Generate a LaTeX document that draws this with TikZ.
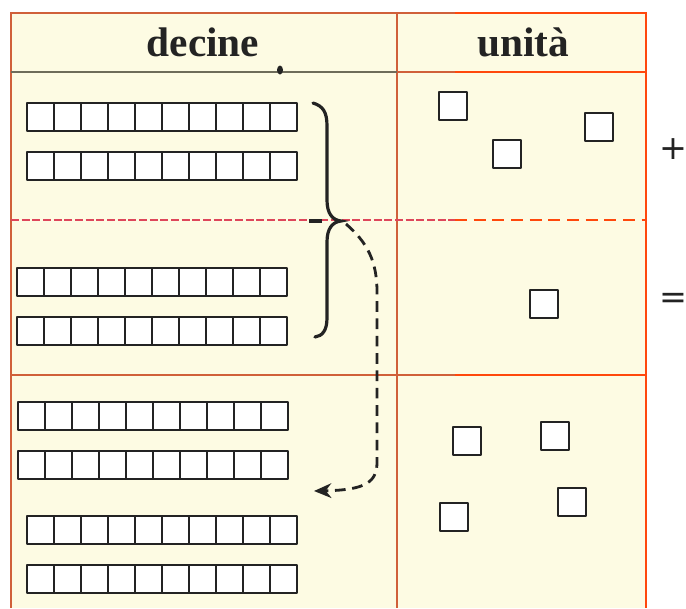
\documentclass[tikz,border=0pt]{standalone}
\usepackage{fontspec}
\setmainfont{Liberation Serif}
\newfontfamily\symfont{DejaVu Sans}
\usetikzlibrary{arrows.meta}
\definecolor{paper}{RGB}{253,251,227}
\definecolor{framebrown}{RGB}{208,96,58}
\definecolor{framebright}{RGB}{255,72,12}
\definecolor{dashpink}{RGB}{222,70,90}
\definecolor{headgray}{RGB}{110,108,90}
\definecolor{ink}{RGB}{35,35,35}
\newcommand\tenbar[2]{%
  \foreach \k in {0,...,9}{\draw[cell] ({#1+27*\k},#2) rectangle ++(27,28);}}
\newcommand\unitsq[2]{\draw[cell] (#1,#2) rectangle ++(28,28);}
\begin{document}
\begin{tikzpicture}[x=0.75pt,y=-0.75pt,
  cell/.style={draw=ink,fill=white,line width=2.1pt,line join=round},
  brown/.style={draw=framebrown,line width=2pt},
  bright/.style={draw=framebright,line width=2.2pt},
  hdr/.style={font=\fontsize{31}{31}\selectfont\bfseries,text=ink,inner sep=0pt},
  sym/.style={font=\symfont\fontsize{25}{25}\selectfont,text=ink,inner sep=0pt}]
\useasboundingbox (0,0) rectangle (686,608);
\fill[white] (0,0) rectangle (686,608);
\fill[paper] (11,13) rectangle (646,608);
% frame
\draw[brown] (11,608) -- (11,13) -- (455,13);
\draw[bright] (455,13) -- (646,13) -- (646,608);
\draw[brown] (397,13) -- (397,608);
\draw[draw=headgray,line width=1.6pt] (11,72) -- (397,72);
\draw[brown] (397,72) -- (455,72);
\draw[bright] (455,72) -- (646,72);
\draw[draw=dashpink,line width=2pt,dash pattern=on 6pt off 2pt] (11,220) -- (455,220);
\draw[draw=framebright,line width=2pt,dash pattern=on 9pt off 5pt] (455,220) -- (646,220);
\draw[brown] (11,375) -- (455,375);
\draw[bright] (455,375) -- (646,375);
\fill[ink] (280,70) ellipse (3 and 4.5);
% headers
\node[hdr] (decine) at (203,42) {decine};
\node[hdr] (unita) at (523,42) {unità};
% tens
\tenbar{27}{103}
\tenbar{27}{152}
\tenbar{17}{268}
\tenbar{17}{317}
\tenbar{18}{402}
\tenbar{18}{451}
\tenbar{27}{516}
\tenbar{27}{565}
% units
\unitsq{439}{92}
\unitsq{585}{113}
\unitsq{493}{140}
\unitsq{530}{290}
\unitsq{453}{427}
\unitsq{541}{422}
\unitsq{440}{503}
\unitsq{558}{488}
% brace
\coordinate (tip) at (341,221);
\draw[ink,line width=2.4pt,line cap=round]
  (313,103) .. controls (323,106) and (327,112) .. (327,126) -- (327,200)
  .. controls (327,213) and (332,220) .. (tip)
  .. controls (332,222) and (327,229) .. (327,242) -- (327,318)
  .. controls (327,331) and (322,336) .. (315,337);
\draw[ink,line width=2.4pt] (309,221) -- (322,221);
% dashed arrow
\coordinate (arrend) at (314,491);
\draw[ink,line width=2.1pt,dash pattern=on 8pt off 5pt,-{Stealth[length=13pt,width=11pt]}]
  (346,224) .. controls (368,243) and (377,262) .. (377,292) -- (377,462)
  .. controls (377,482) and (366,490) .. (arrend);
% signs
\node[sym] (plus) at (673,149) {+};
\node[sym] (eq) at (673,301) {=};
\end{tikzpicture}
\end{document}
